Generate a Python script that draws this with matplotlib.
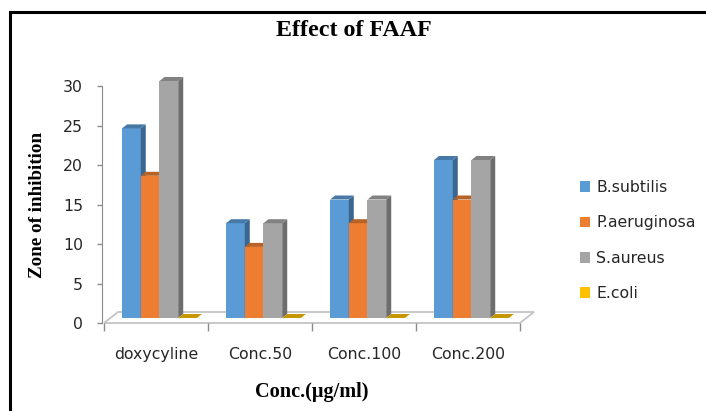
import matplotlib
matplotlib.use('Agg')
import matplotlib.pyplot as plt
import numpy as np
from matplotlib.patches import Polygon, Patch
from matplotlib.transforms import ScaledTranslation
from matplotlib.lines import Line2D
from matplotlib.colors import to_rgb

# ---- data ----
categories = ['doxycyline', 'Conc.50', 'Conc.100', 'Conc.200']
series_names = ['B.subtilis', 'P.aeruginosa', 'S.aureus', 'E.coli']
b_subtilis = [24, 12, 15, 20]
p_aeruginosa = [18, 9, 12, 15]
s_aureus = [30, 12, 15, 20]
e_coli = [0, 0, 0, 0]
y_ticks = [0, 5, 10, 15, 20, 25, 30]

colors = ['#5B9BD5', '#ED7D31', '#A5A5A5', '#FFC000']
SANS = 'DejaVu Sans'
SERIF = 'Liberation Serif'
TXT = '#262626'
GRID = '#8c8c8c'
FS = 11.3

W, H = 706, 411
fig = plt.figure(figsize=(W / 100, H / 100), dpi=100)
fig.patch.set_facecolor('white')

AX_L, AX_R, AX_T, AX_B = 104, 520, 86, 323
ax = fig.add_axes([AX_L / W, 1 - AX_B / H, (AX_R - AX_L) / W, (AX_B - AX_T) / H])
ax.set_xlim(0, len(categories))
ax.set_ylim(0, 30)
ax.patch.set_alpha(0)
ux = len(categories) / (AX_R - AX_L)
uy = 30 / (AX_B - AX_T)


def shade(c, f):
    r, g, b = to_rgb(c)
    return (r * f, g * f, b * f)


# floor (3-D base plane)
fdx, fdy = 14 * ux, 11 * uy
n = len(categories)
floor = Polygon([(0, 0), (n, 0), (n + fdx, fdy), (fdx, fdy)], closed=True,
                facecolor='white', edgecolor='#c4c4c4', linewidth=1.3,
                transform=ax.transData, clip_on=False, zorder=1)
ax.add_patch(floor)

# bars with pseudo-3D faces
shift = ScaledTranslation(3.5 / 100, 5 / 100, fig.dpi_scale_trans)
tr = ax.transData + shift
bw = 0.18
ddx, ddy = 5 * ux, 4 * uy
x = np.arange(n) + 0.5
series = [b_subtilis, p_aeruginosa, s_aureus, e_coli]
for j, (vals, col) in enumerate(zip(series, colors)):
    xs = x + (j - 1.5) * bw
    z = 3 + 3 * j
    ax.bar(xs, vals, bw, color=col, linewidth=0, transform=tr, clip_on=False, zorder=z)
    for xc, v in zip(xs, vals):
        l, r = xc - bw / 2, xc + bw / 2
        side = Polygon([(r, 0), (r + ddx, ddy), (r + ddx, v + ddy), (r, v)], closed=True,
                       facecolor=shade(col, 0.66), linewidth=0, transform=tr,
                       clip_on=False, zorder=z + 1)
        top = Polygon([(l, v), (r, v), (r + ddx, v + ddy), (l + ddx, v + ddy)], closed=True,
                      facecolor=shade(col, 0.78), linewidth=0, transform=tr,
                      clip_on=False, zorder=z + 2)
        ax.add_patch(side)
        ax.add_patch(top)

# axes styling
for s in ['top', 'right', 'bottom']:
    ax.spines[s].set_visible(False)
ax.spines['left'].set_position(('outward', 1.5))
ax.spines['left'].set_color(GRID)
ax.set_yticks(y_ticks)
ax.set_yticklabels([str(t) for t in y_ticks], family=SANS, fontsize=FS, color=TXT)
ax.tick_params(axis='y', length=5 * 0.72, width=1, color=GRID, pad=14 * 0.72)

ax.set_xticks(np.arange(n + 1))
ax.set_xticklabels([])
ax.set_xticks(x, minor=True)
ax.set_xticklabels(categories, minor=True, family=SANS, fontsize=FS, color=TXT)
ax.tick_params(axis='x', which='major', length=8 * 0.72, width=1, color=GRID)
ax.tick_params(axis='x', which='minor', length=0, pad=17)

# texts
fig.text(354 / W, 1 - 30 / H, 'Effect of FAAF', ha='center', va='center',
         family=SERIF, weight='bold', fontsize=17.3, color='black')
fig.text(38 / W, 1 - 205 / H, 'Zone of inhibition', rotation=90, ha='center', va='center',
         family=SERIF, weight='bold', fontsize=13.7, color='black')
fig.text(312 / W, 1 - 392 / H, 'Conc.(μg/ml)', ha='center', va='center',
         family=SERIF, weight='bold', fontsize=14.6, color='black')

# legend
handles = [Patch(facecolor=c, edgecolor='none') for c in colors]
fig.legend(handles, series_names, loc='upper left', bbox_to_anchor=(580 / W, 1 - 180 / H),
           frameon=False, borderpad=0, borderaxespad=0, handlelength=0.65, handleheight=0.65,
           handletextpad=0.4, labelspacing=1.3,
           prop={'family': SANS, 'size': FS}, labelcolor=TXT)

# outer frame lines (top and left)
fig.add_artist(Line2D([10 / W, 1], [1 - 12 / H, 1 - 12 / H], color='black', lw=2.2,
                      transform=fig.transFigure))
fig.add_artist(Line2D([10 / W, 10 / W], [0, 1 - 12 / H], color='black', lw=2.2,
                      transform=fig.transFigure))

fig.savefig('out.png', dpi=100)
